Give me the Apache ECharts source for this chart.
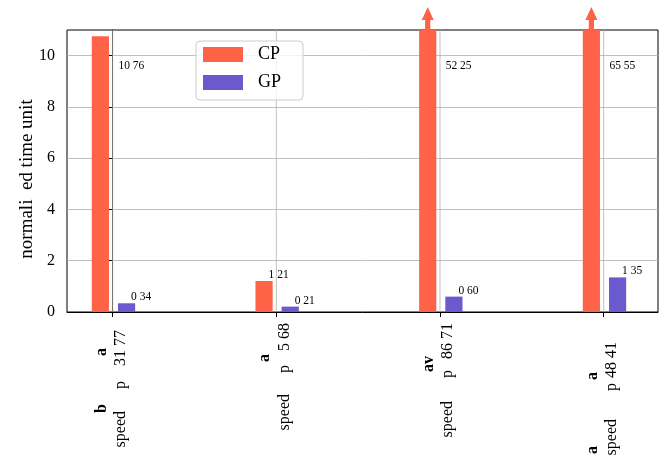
<!DOCTYPE html>
<html>
<head>
<meta charset="utf-8">
<script src="https://cdn.jsdelivr.net/npm/echarts@6/dist/echarts.min.js"></script>
<style>
  html, body { margin: 0; padding: 0; background: #fff; }
  #chart { width: 668px; height: 461px; }
</style>
</head>
<body>
<div id="chart"></div>
<script>
// ---- data ----
const tickMain = [
  ['speed', 'p', '31 77'],
  ['speed', 'p', '5 68'],
  ['speed', 'p', '86 71'],
  ['speed', 'p', '48 41']
];
const tickSuper = [['b', 'a'], ['a'], ['av'], ['a', 'a']];
const seriesNames = ['CP', 'GP'];
const cpValues = [10.76, 1.21, 52.25, 65.55];
const gpValues = [0.34, 0.21, 0.60, 1.35];
const yTicks = [0, 2, 4, 6, 8, 10];
const yName = 'normali  ed time unit';

// ---- layout ----
const Y_MAX = 11;
const X_MIN = -0.279, X_MAX = 3.332;
const BAR_W = 0.105;
const BAR_SHIFT = { CP: -0.075, GP: 0.085 };
const LABEL_CAP = 0.85 * Y_MAX;
const COLORS = { CP: '#ff6347', GP: '#6a5acd' };
// spacing (px) after each piece of the rotated tick labels
const mainGaps = [[22, 15, 8], [21, 14, 1], [23, 11, 1], [28, 5, 20]];
const superGaps = [[48, 26], [32], [34], [66, 50]];

const SERIF = '"Liberation Serif", "Times New Roman", serif';
const LH = { s: 16, m: 22 };
const rich = {
  m: { fontFamily: SERIF, fontSize: 16, color: '#000', lineHeight: LH.m },
  s: { fontFamily: SERIF, fontSize: 16, fontWeight: 'bold', color: '#000', lineHeight: LH.s }
};
function gapStyle(w, line) {
  const name = line + 'g' + w;
  if (!rich[name]) {
    rich[name] = { width: w, lineHeight: LH[line], fontSize: 16, fontFamily: SERIF };
  }
  return name;
}
function buildLine(parts, gaps, line) {
  return parts.map((t, k) => `{${line}|${t}}{${gapStyle(gaps[k], line)}| }`).join('');
}
const tickText = tickMain.map((parts, i) =>
  buildLine(tickSuper[i], superGaps[i], 's') + '\n' + buildLine(parts, mainGaps[i], 'm'));
const tickPositions = tickMain.map((_, i) => i);

function barSeries(name, values) {
  const color = COLORS[name];
  return {
    name: name,
    type: 'custom',
    coordinateSystem: 'cartesian2d',
    itemStyle: { color: color },
    data: values.map((v, i) => [i, v]),
    encode: { x: 0, y: 1 },
    clip: false,
    z: 3,
    renderItem: function (params, api) {
      const i = api.value(0), v = api.value(1);
      const xc = i + BAR_SHIFT[name];
      const top = Math.min(v, Y_MAX);
      const p0 = api.coord([xc - BAR_W / 2, 0]);
      const p1 = api.coord([xc + BAR_W / 2, top]);
      const children = [{
        type: 'rect',
        shape: { x: p0[0], y: p1[1], width: p1[0] - p0[0], height: p0[1] - p1[1] },
        style: { fill: color }
      }];
      if (v > Y_MAX) {
        // value runs off the axis: arrow pointing up
        const cx = api.coord([xc, Y_MAX])[0];
        const ty = p1[1];
        children.push({
          type: 'polygon',
          shape: { points: [
            [cx - 2.6, ty], [cx - 2.6, ty - 10], [cx - 6, ty - 10], [cx, ty - 23],
            [cx + 6, ty - 10], [cx + 2.6, ty - 10], [cx + 2.6, ty]
          ] },
          style: { fill: color }
        });
      }
      const lp = api.coord([xc, Math.min(v, LABEL_CAP)]);
      const dx = v >= LABEL_CAP ? 18 : 4.5;
      children.push({
        type: 'text',
        x: lp[0] + dx,
        y: lp[1],
        style: {
          text: v.toFixed(2).replace('.', ' '),
          fontFamily: SERIF,
          fontSize: 11.5,
          fill: '#000',
          align: 'left',
          verticalAlign: 'bottom'
        }
      });
      return { type: 'group', children: children };
    }
  };
}

const chart = echarts.init(document.getElementById('chart'), null, { renderer: 'canvas' });
chart.setOption({
  animation: false,
  backgroundColor: '#fff',
  grid: {
    left: 67, top: 30, right: 10, bottom: 149,
    show: true, borderColor: '#000', borderWidth: 1, backgroundColor: 'transparent'
  },
  legend: {
    data: seriesNames.map(n => ({ name: n, icon: 'rect' })),
    orient: 'vertical',
    left: 196, top: 41,
    itemWidth: 40, itemHeight: 15, itemGap: 10,
    padding: [4.5, 22, 8.5, 7],
    backgroundColor: 'rgba(255,255,255,0.8)',
    borderColor: '#cccccc', borderWidth: 1, borderRadius: 4,
    textStyle: { fontFamily: SERIF, fontSize: 18, color: '#000', padding: [0, 0, 0, 10] }
  },
  xAxis: {
    type: 'value',
    min: X_MIN, max: X_MAX,
    axisLine: { show: true, onZero: false, lineStyle: { color: '#000', width: 1 } },
    axisTick: { show: true, customValues: tickPositions, length: 5, lineStyle: { color: '#000' } },
    axisLabel: {
      customValues: tickPositions,
      rotate: 90,
      margin: 10,
      formatter: v => tickText[Math.round(v)],
      rich: rich
    },
    splitLine: { show: false }
  },
  yAxis: {
    type: 'value',
    min: 0, max: Y_MAX, interval: 2,
    name: yName,
    nameLocation: 'middle',
    nameGap: 30,
    nameMoveOverlap: false,
    nameTextStyle: { fontFamily: SERIF, fontSize: 19, color: '#000', padding: [0, 16, 0, 0] },
    axisLine: { show: true, lineStyle: { color: '#000', width: 1 } },
    axisTick: { show: true, customValues: yTicks, length: 5, lineStyle: { color: '#000' } },
    axisLabel: { customValues: yTicks, fontFamily: SERIF, fontSize: 16, color: '#000', margin: 12 },
    splitLine: { show: true, lineStyle: { color: '#b0b0b0', width: 0.8 } }
  },
  series: [
    {
      name: 'xgrid',
      type: 'custom',
      silent: true,
      z: 1,
      data: tickPositions.map(i => [i, 0]),
      encode: { x: 0, y: 1 },
      renderItem: function (params, api) {
        const x = api.value(0);
        const a = api.coord([x, 0]);
        const b = api.coord([x, Y_MAX]);
        return {
          type: 'line',
          shape: { x1: a[0], y1: a[1], x2: b[0], y2: b[1] },
          style: { stroke: '#b0b0b0', lineWidth: 0.8 }
        };
      }
    },
    barSeries('CP', cpValues),
    barSeries('GP', gpValues)
  ]
});
</script>
</body>
</html>
